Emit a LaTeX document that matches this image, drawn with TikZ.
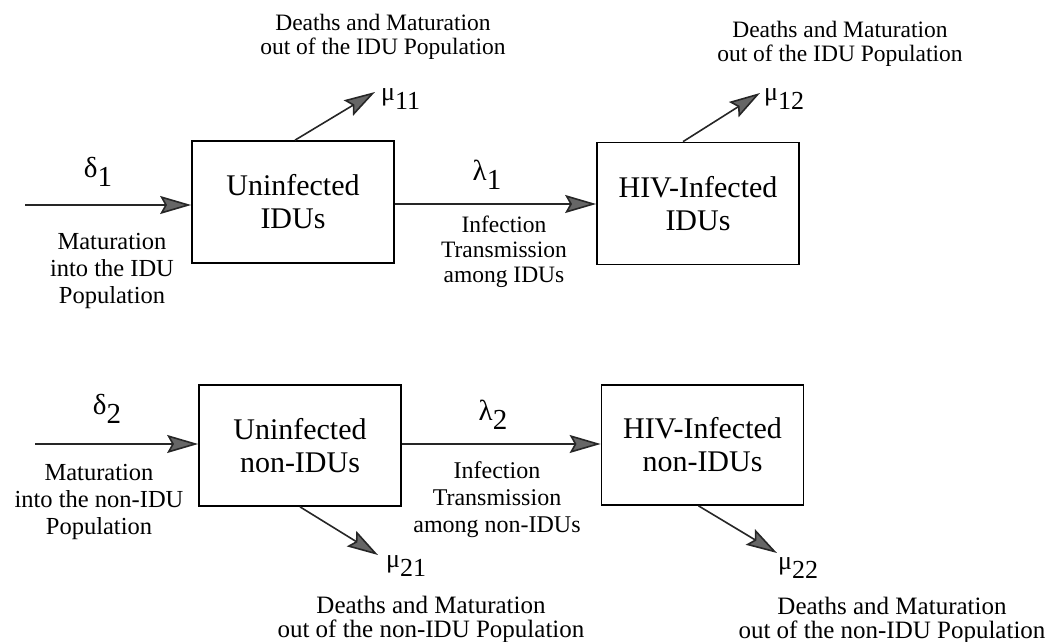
\documentclass[tikz,border=0pt]{standalone}
\usepackage{fontspec}
\setmainfont{Liberation Serif}
\usetikzlibrary{arrows.meta,calc}
\newcommand\lsub[2]{#1\raisebox{-0.32em}{#2}}
\begin{document}
\begin{tikzpicture}[x=1pt,y=-1pt,
  box/.style={draw, line width=1.7pt, minimum width=202pt, minimum height=122pt,
    inner sep=0pt, align=center, font=\fontsize{30}{33}\selectfont},
  lbl/.style={align=center, inner sep=0pt, font=\fontsize{23.5}{24}\selectfont},
  lblb/.style={align=center, inner sep=0pt, font=\fontsize{25}{24}\selectfont},
  lblm/.style={align=center, inner sep=0pt, font=\fontsize{24.5}{27}\selectfont},
  greek/.style={inner sep=0pt, font=\fontsize{29}{29}\selectfont},
  mu/.style={inner sep=0pt, anchor=west, font=\fontsize{26}{26}\selectfont},
  arr/.style={line width=1.6pt, draw=black!85,
    -{Stealth[length=31pt,width=18pt,inset=5pt,fill=black!60]}}]
\useasboundingbox (0,0) rectangle (1053,642);

% boxes
\node[box] (u1) at (293,202) {Uninfected\\IDUs};
\node[box] (h1) at (698,203.5) {HIV-Infected\\IDUs};
\node[box, minimum height=121pt] (u2) at (300,445.5) {Uninfected\\non-IDUs};
\node[box, minimum height=120pt] (h2) at (702.5,445) {HIV-Infected\\non-IDUs};

% free ends
\coordinate (s1) at (25,205);
\coordinate (s2) at (35,444);
\coordinate (t11) at (375,92);
\coordinate (t12) at (760,93);
\coordinate (t21) at (378,555);
\coordinate (t22) at (777,553);

% connectors
\draw[arr] (s1) -- (s1 -| u1.west);
\draw[arr] (u1.east |- 0,204) -- (h1.west |- 0,204);
\draw[arr] (s2) -- (s2 -| u2.west);
\draw[arr] (u2.east |- 0,444) -- (h2.west |- 0,444);
\draw[arr] ([xshift=2pt]u1.north) -- (t11);
\draw[arr] ([xshift=-15pt]h1.north) -- (t12);
\draw[arr] (u2.south) -- (t21);
\draw[arr] ([xshift=-4pt]h2.south) -- (t22);

% greek labels
\node[greek] (d1) at (98,172) {\lsub{δ}{1}};
\node[greek] (d2) at (107,409) {\lsub{δ}{2}};
\node[greek] (l1) at (487,175) {\lsub{λ}{1}};
\node[greek] (l2) at (493,415) {\lsub{λ}{2}};
\node[mu] (m11) at (381,99) {\lsub{μ}{11}};
\node[mu] (m12) at (764,99) {\lsub{μ}{12}};
\node[mu] (m21) at (386,566) {\lsub{μ}{21}};
\node[mu] (m22) at (778,568) {\lsub{μ}{22}};

% text labels
\node[lbl] (o11) at (383,37) {Deaths and Maturation\\out of the IDU Population};
\node[lbl] (o12) at (840,44) {Deaths and Maturation\\out of the IDU Population};
\node[lblb] (o21) at (431,619) {Deaths and Maturation\\out of the non-IDU Population};
\node[lblb] (o22) at (892,620) {Deaths and Maturation\\out of the non-IDU Population};
\node[lblm] (i1) at (112,271) {Maturation\\into the IDU\\Population};
\node[lblm] (i2) at (99,502) {Maturation\\into the non-IDU\\Population};
\node[lblm, font=\fontsize{23.5}{25}\selectfont] (x1) at (504,252) {Infection\\Transmission\\among IDUs};
\node[lblm, font=\fontsize{24}{27}\selectfont] (x2) at (497,500) {Infection\\Transmission\\among non-IDUs};
\end{tikzpicture}
\end{document}
